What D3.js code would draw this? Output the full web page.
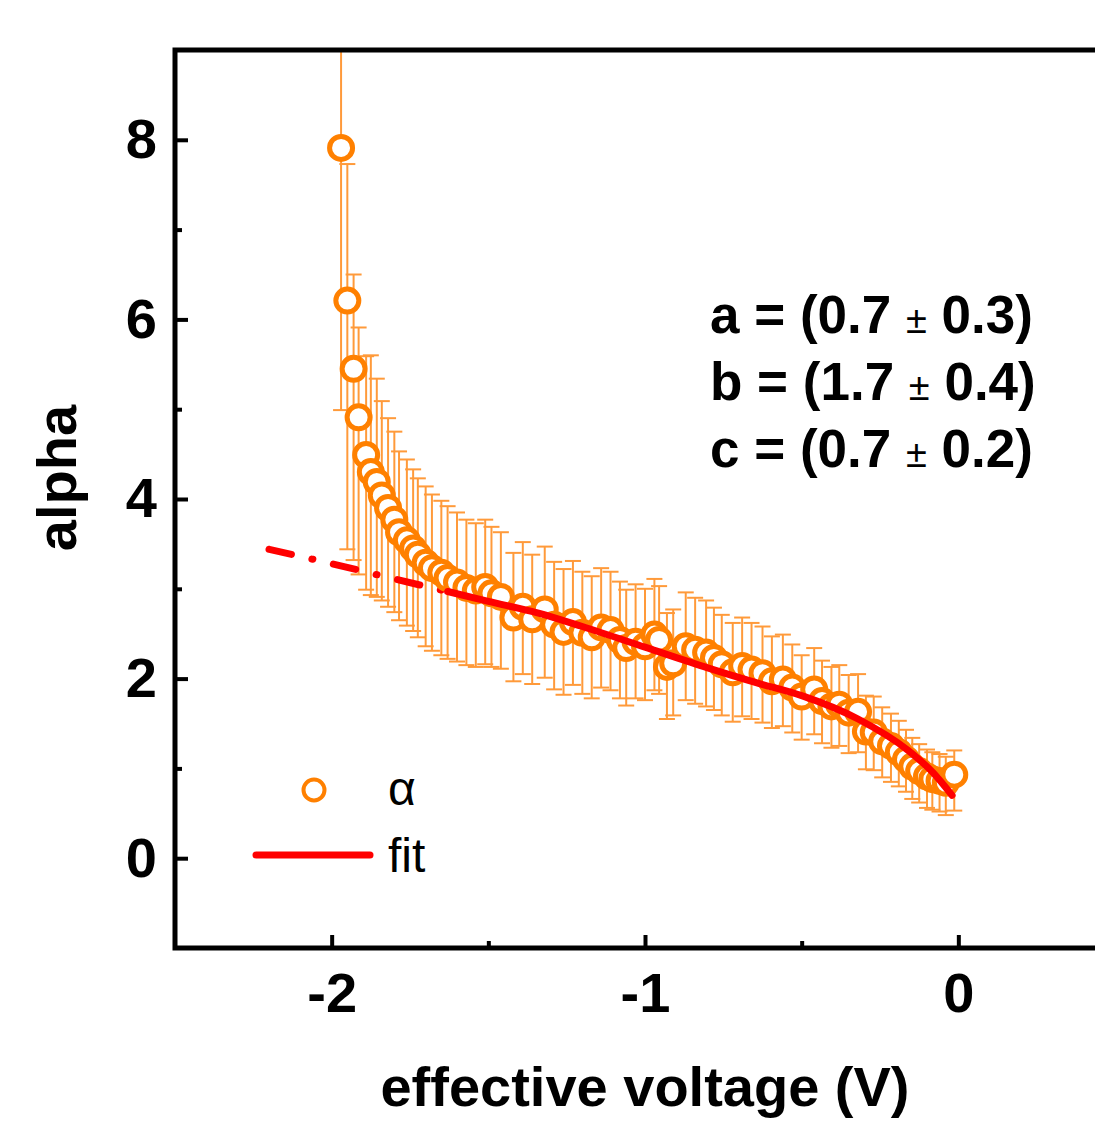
<!DOCTYPE html>
<html>
<head>
<meta charset="utf-8">
<script src="https://cdn.jsdelivr.net/npm/d3@7"></script>
<style>
  body { margin: 0; background: #fff; }
  text { font-family: "Liberation Sans", Arial, sans-serif; }
</style>
</head>
<body>
<svg id="svg1" width="1095" height="1122"></svg>
<script>
// measured alpha vs effective voltage
var voltage = [-1.970, -1.950, -1.930, -1.914, -1.890, -1.875, -1.856, -1.840, -1.820, -1.800,
  -1.785, -1.760, -1.740, -1.725, -1.700, -1.680, -1.650, -1.630, -1.600, -1.570,
  -1.540, -1.510, -1.490, -1.460, -1.420, -1.390, -1.360, -1.320, -1.290, -1.260,
  -1.230, -1.200, -1.170, -1.140, -1.110, -1.080, -1.060, -1.030, -1.000, -0.970,
  -0.955, -0.930, -0.910, -0.870, -0.840, -0.805, -0.780, -0.755, -0.720, -0.690,
  -0.660, -0.625, -0.595, -0.560, -0.530, -0.500, -0.460, -0.435, -0.405, -0.380,
  -0.350, -0.320, -0.295, -0.270, -0.243, -0.215, -0.190, -0.167, -0.147, -0.125,
  -0.100, -0.083, -0.060, -0.040, -0.013];
var alpha = [7.91, 6.21, 5.45, 4.91, 4.49, 4.30, 4.19, 4.04, 3.90, 3.77,
  3.63, 3.54, 3.45, 3.38, 3.29, 3.23, 3.18, 3.12, 3.07, 3.01,
  2.98, 3.02, 2.95, 2.91, 2.68, 2.80, 2.66, 2.77, 2.60, 2.52,
  2.63, 2.51, 2.46, 2.57, 2.54, 2.43, 2.34, 2.41, 2.36, 2.49,
  2.43, 2.13, 2.17, 2.36, 2.32, 2.29, 2.23, 2.16, 2.07, 2.14,
  2.10, 2.06, 1.97, 1.99, 1.90, 1.80, 1.88, 1.75, 1.69, 1.71,
  1.62, 1.63, 1.41, 1.40, 1.30, 1.25, 1.18, 1.10, 1.02, 0.97,
  0.91, 0.88, 0.86, 0.84, 0.93];
var errUp = [3.00, 1.52, 1.05, 1.00, 1.10, 1.30, 1.15, 1.05, 1.00, 0.98,
  0.90, 0.90, 0.88, 0.85, 0.85, 0.82, 0.80, 0.80, 0.78, 0.76,
  0.75, 0.75, 0.74, 0.72, 0.72, 0.72, 0.72, 0.70, 0.70, 0.70,
  0.68, 0.68, 0.68, 0.66, 0.65, 0.65, 0.65, 0.64, 0.64, 0.62,
  0.60, 0.60, 0.60, 0.60, 0.58, 0.58, 0.56, 0.55, 0.55, 0.54,
  0.52, 0.52, 0.50, 0.50, 0.48, 0.46, 0.46, 0.45, 0.44, 0.44,
  0.42, 0.42, 0.40, 0.40, 0.38, 0.36, 0.35, 0.33, 0.32, 0.30,
  0.30, 0.30, 0.30, 0.29, 0.27];
var errDown = [2.92, 2.77, 2.13, 1.75, 1.50, 1.37, 1.28, 1.17, 1.10, 1.03,
  0.98, 0.95, 0.92, 0.92, 0.93, 0.92, 0.92, 0.90, 0.88, 0.86,
  0.85, 0.86, 0.82, 0.80, 0.71, 0.75, 0.72, 0.76, 0.72, 0.70,
  0.70, 0.68, 0.68, 0.67, 0.67, 0.65, 0.64, 0.63, 0.60, 0.62,
  0.60, 0.58, 0.58, 0.60, 0.60, 0.60, 0.58, 0.57, 0.55, 0.56,
  0.55, 0.55, 0.52, 0.52, 0.50, 0.48, 0.50, 0.47, 0.46, 0.46,
  0.45, 0.45, 0.42, 0.42, 0.40, 0.40, 0.38, 0.36, 0.36, 0.35,
  0.35, 0.34, 0.34, 0.36, 0.40];

// fit curve (dash-dot below fitStart)
var fitV = [-2.20, -2.00, -1.80, -1.63, -1.50, -1.34, -1.20, -1.00, -0.80, -0.64,
  -0.50, -0.32, -0.16, -0.08, -0.02];
var fitAlpha = [3.44, 3.28, 3.11, 2.97, 2.86, 2.73, 2.58, 2.35, 2.12, 1.95,
  1.81, 1.55, 1.20, 0.95, 0.70];
var fitStart = -1.63;

var xTicks = [-2, -1, 0], xMinor = [-1.5, -0.5];
var yTicks = [0, 2, 4, 6, 8], yMinor = [1, 3, 5, 7];
var paramNames = ["a", "b", "c"];
var paramValues = ["0.7", "1.7", "0.7"];
var paramErrors = ["0.3", "0.4", "0.2"];

var svg = d3.select("#svg1");
var x = d3.scaleLinear().domain([-2.5, 0.5]).range([175, 1115]);
var y = d3.scaleLinear().domain([-1, 9]).range([948, 50]);

var orange = "#ff8000", errColor = "#ff9a3a", red = "#ff0000";

svg.append("clipPath").attr("id", "plotclip")
  .append("rect")
    .attr("x", x(-2.5)).attr("y", y(9))
    .attr("width", x(0.5) - x(-2.5)).attr("height", y(-1) - y(9));

var data = voltage.map(function(v, i) {
  return {v: v, a: alpha[i], hi: alpha[i] + errUp[i], lo: alpha[i] - errDown[i]};
});

var plot = svg.append("g").attr("clip-path", "url(#plotclip)");

// error bars
var eb = plot.append("g").attr("stroke", errColor).attr("stroke-width", 2);
data.forEach(function(d) {
  eb.append("line").attr("x1", x(d.v)).attr("x2", x(d.v)).attr("y1", y(d.hi)).attr("y2", y(d.lo));
  eb.append("line").attr("x1", x(d.v) - 8).attr("x2", x(d.v) + 8).attr("y1", y(d.hi)).attr("y2", y(d.hi));
  eb.append("line").attr("x1", x(d.v) - 8).attr("x2", x(d.v) + 8).attr("y1", y(d.lo)).attr("y2", y(d.lo));
});

// fit line
var fit = fitV.map(function(v, i) { return {v: v, a: fitAlpha[i]}; });
var line = d3.line().x(function(d) { return x(d.v); }).y(function(d) { return y(d.a); })
  .curve(d3.curveMonotoneX);

plot.append("path")
  .datum(fit.filter(function(d) { return d.v <= fitStart; }))
  .attr("d", line).attr("fill", "none").attr("stroke", red)
  .attr("stroke-width", 7).attr("stroke-linecap", "round")
  .attr("stroke-dasharray", "23,21,1,21");

// data points
plot.selectAll(".pt").data(data).enter().append("circle")
  .attr("class", "pt")
  .attr("cx", function(d) { return x(d.v); })
  .attr("cy", function(d) { return y(d.a); })
  .attr("r", 11.5)
  .attr("fill", "#fff").attr("stroke", orange).attr("stroke-width", 5);

plot.append("path")
  .datum(fit.filter(function(d) { return d.v >= fitStart; }))
  .attr("d", line).attr("fill", "none").attr("stroke", red)
  .attr("stroke-width", 7).attr("stroke-linecap", "round");

// axes (ticks pointing inward)
svg.append("g").attr("transform", "translate(0," + y(-1) + ")")
  .call(d3.axisBottom(x).tickValues(xTicks).tickSize(-13).tickPadding(24)
    .tickFormat(function(d) { return String(d); }));
svg.append("g").attr("transform", "translate(0," + y(-1) + ")")
  .call(d3.axisBottom(x).tickValues(xMinor).tickSize(-7).tickFormat(""));
svg.append("g").attr("transform", "translate(" + x(-2.5) + ",0)")
  .call(d3.axisLeft(y).tickValues(yTicks).tickSize(-13).tickPadding(18)
    .tickFormat(function(d) { return String(d); }));
svg.append("g").attr("transform", "translate(" + x(-2.5) + ",0)")
  .call(d3.axisLeft(y).tickValues(yMinor).tickSize(-7).tickFormat(""));

svg.selectAll(".domain").remove();
svg.selectAll(".tick line").attr("stroke", "#000").attr("stroke-width", 4);
svg.selectAll(".tick text").attr("fill", "#000")
  .style("font-size", "56px").style("font-weight", "bold")
  .style("font-family", "'Liberation Sans', Arial, sans-serif");

// frame
svg.append("rect")
  .attr("x", x(-2.5)).attr("y", y(9))
  .attr("width", x(0.5) - x(-2.5)).attr("height", y(-1) - y(9))
  .attr("fill", "none").attr("stroke", "#000").attr("stroke-width", 5);

// axis titles
svg.append("text").attr("x", 645).attr("y", 1106).attr("text-anchor", "middle")
  .style("font-size", "56px").style("font-weight", "bold").text("effective voltage (V)");
svg.append("text").attr("transform", "translate(76,478) rotate(-90)").attr("text-anchor", "middle")
  .style("font-size", "56px").style("font-weight", "bold").text("alpha");

// fit parameters
paramNames.forEach(function(n, i) {
  var t = svg.append("text").attr("x", 710).attr("y", 333 + i * 67)
    .style("font-size", "53px").style("font-weight", "bold");
  t.append("tspan").text(n + " = (" + paramValues[i] + " ");
  t.append("tspan").style("font-size", "38px").style("font-weight", "normal").text("\u00b1");
  t.append("tspan").text(" " + paramErrors[i] + ")");
});

// legend
svg.append("circle").attr("cx", 314).attr("cy", 790).attr("r", 10.5)
  .attr("fill", "#fff").attr("stroke", orange).attr("stroke-width", 4);
svg.append("text").attr("x", 388).attr("y", 805).style("font-size", "48px").text("\u03b1");
svg.append("line").attr("x1", 256).attr("x2", 370).attr("y1", 855).attr("y2", 855)
  .attr("stroke", red).attr("stroke-width", 7).attr("stroke-linecap", "round");
svg.append("text").attr("x", 388).attr("y", 872).style("font-size", "48px").text("fit");
</script>
</body>
</html>
